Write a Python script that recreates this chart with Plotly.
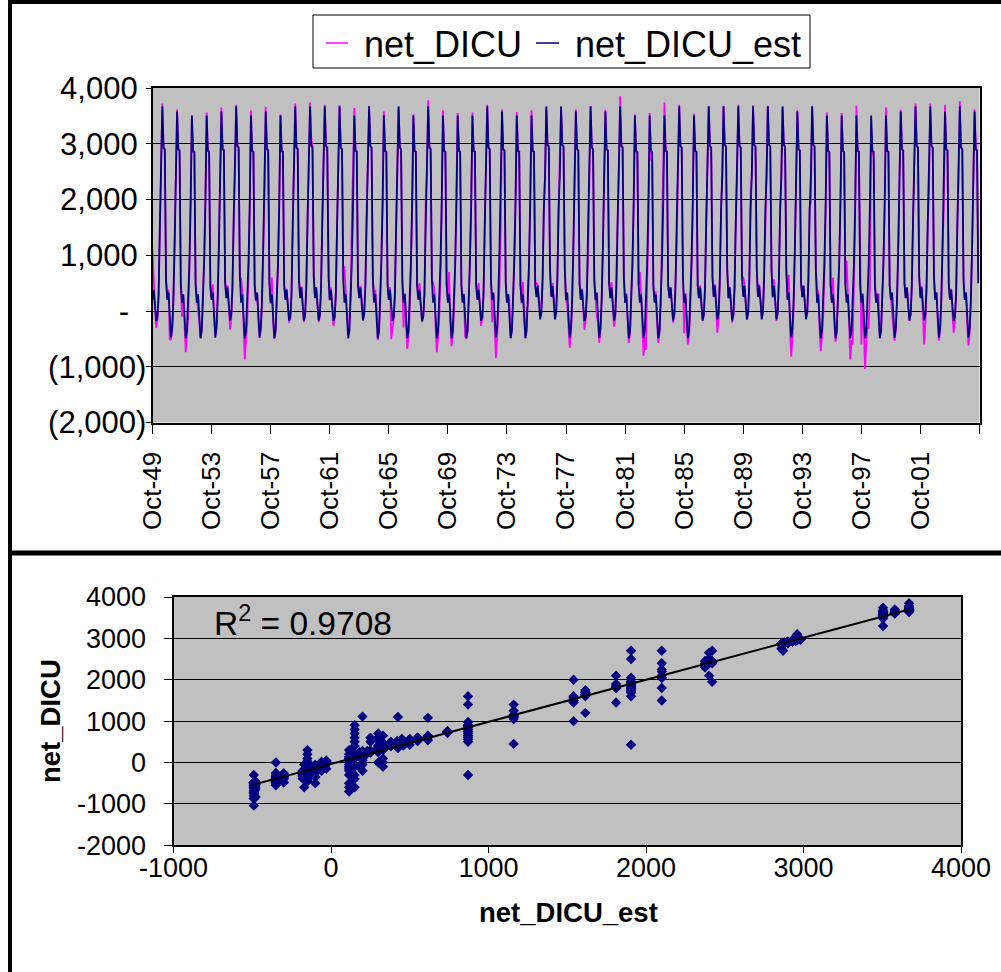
import numpy as np
import pandas as pd
import plotly.graph_objects as go

# ---------------- data ----------------
months = ["Oct", "Nov", "Dec", "Jan", "Feb", "Mar", "Apr", "May", "Jun", "Jul", "Aug", "Sep"]
water_years = list(range(1950, 2006))
year_types = ["BN", "AN", "W", "W", "AN", "D", "W", "AN", "W", "BN",
              "D", "D", "BN", "W", "D", "W", "BN", "W", "BN", "W",
              "W", "W", "BN", "AN", "W", "W", "C", "C", "AN", "BN",
              "AN", "D", "W", "W", "W", "D", "W", "D", "C", "D",
              "C", "C", "C", "AN", "C", "W", "W", "W", "W", "W",
              "AN", "D", "D", "AN", "BN", "AN"]

# estimated monthly net DICU by year type (Oct..Sep)
est_W = [150, 300, -150, -490, -350, 115, 870, 1905, 3505, 2870, 2860, 460]
est_AN = [200, 330, -100, -480, -300, 200, 1160, 2100, 3580, 2900, 2880, 500]
est_BN = [200, 380, 115, -180, -100, 300, 1540, 2375, 3670, 2930, 2900, 550]
est_D = [230, 420, 150, -170, -60, 425, 1615, 2400, 3670, 2960, 2930, 615]
est_C = [250, 450, 180, -150, -30, 550, 1810, 2420, 3670, 2980, 2950, 740]
est_table = {"W": est_W, "AN": est_AN, "BN": est_BN, "D": est_D, "C": est_C}

# observed net DICU, one row per water year (Oct..Sep)
net_dicu_rows = [
    [1110, 420, 60, -300, -150, 250, 1450, 2300, 3720, 2950, 2880, 600],
    [260, 380, -500, -520, -330, 150, 1250, 2200, 3620, 2920, 2870, 430],
    [-100, 280, -300, -740, -420, -100, 700, 1800, 3480, 2850, 2840, 520],
    [180, 0, -180, -480, -300, 200, 980, 2050, 3560, 2890, 2870, 410],
    [230, 480, -50, -450, -260, 280, 1400, 2250, 3650, 2920, 2900, 560],
    [280, 460, 100, -330, -120, 380, 1700, 2450, 3700, 2970, 2940, 540],
    [600, 340, -250, -870, -500, -200, 650, 1700, 3600, 2880, 2850, 480],
    [170, 310, -150, -480, -320, 150, 1100, 2050, 3660, 2910, 2890, 520],
    [130, 600, -200, -500, -380, 50, 800, 1850, 3530, 2860, 2850, 470],
    [230, 400, 80, -210, -120, 320, 1600, 2450, 3720, 2950, 2910, 590],
    [260, 440, 130, -200, -80, 470, 1700, 2650, 3740, 3100, 2940, 650],
    [250, 430, 120, -200, -90, 450, 1650, 2450, 3700, 2970, 2930, 1080],
    [190, 420, 60, -270, -130, 280, 1500, 2350, 3690, 2940, 2900, 570],
    [800, 330, -100, -300, -250, 300, 1600, 2500, 3640, 2890, 2870, 500],
    [240, 450, 200, -50, 20, 500, 1750, 2500, 3680, 2960, 2930, 630],
    [180, 380, 100, -520, -380, 100, 900, 1950, 3580, 2880, 2860, 480],
    [220, 430, -500, -300, -150, 320, 1500, 2400, 3650, 2930, 2900, 580],
    [-300, 320, -250, -680, -450, -50, 750, 1800, 3530, 2870, 2850, 500],
    [210, 500, 130, -200, -90, 340, 2000, 2450, 3780, 2960, 2910, 560],
    [500, 410, -300, -740, -480, -150, 600, 1700, 3600, 2880, 2860, 510],
    [200, 700, -200, -630, -420, 0, 850, 1900, 3550, 2870, 2860, 470],
    [160, 310, -450, -500, -360, 120, 900, 1950, 3560, 2870, 2850, 480],
    [230, 500, 100, -270, -130, 300, 1560, 2380, 3700, 2940, 2900, 590],
    [-200, 300, -350, -840, -480, -50, 450, 1500, 3620, 2900, 2880, 520],
    [150, 300, 200, -480, -350, 130, 900, 1950, 3570, 2880, 2860, 450],
    [140, 520, -130, -480, 0, 100, 850, 1900, 3600, 2870, 2850, 470],
    [500, 460, 220, 30, 50, 560, 1850, 2450, 3650, 2980, 2950, 720],
    [290, 500, 250, 0, 20, 600, 1900, 2700, 3660, 2980, 2950, 760],
    [200, 100, -250, -660, -400, 100, 1100, 2050, 3620, 2900, 2880, 510],
    [210, 400, 60, -340, -160, 280, 1000, 2300, 3680, 2930, 2900, 560],
    [190, -100, -200, -570, -350, 150, 1150, 2100, 3610, 2900, 2880, 520],
    [250, 520, 100, -280, -120, 1100, 1700, 2500, 3850, 2990, 2940, 640],
    [150, 320, -230, -570, -400, 50, 800, 1850, 3530, 2860, 2850, 470],
    [700, 310, -350, -800, -480, -700, 500, 1600, 3550, 2700, 2840, 450],
    [180, 350, -250, -570, -400, 80, 1400, 2700, 3740, 2890, 2860, 470],
    [240, 430, 130, -210, -80, 440, 1200, 2450, 3700, 2970, 2930, 620],
    [-400, 320, -250, -600, -420, 0, 750, 1750, 3540, 2870, 2850, 470],
    [230, 460, 170, -180, -60, 430, 1650, 2420, 3680, 2960, 2930, 610],
    [260, 480, -100, -390, -150, 520, 1800, 2430, 3680, 2980, 2950, 740],
    [230, 440, 140, -210, -70, 420, 1620, 2400, 3700, 2960, 2930, 630],
    [600, 500, 170, -160, -20, 560, 2100, 2450, 3690, 2980, 2950, 750],
    [260, 480, 190, -60, 20, 560, 1450, 2450, 3680, 2980, 2950, 740],
    [240, 570, 160, -180, -40, 540, 1800, 2400, 3640, 2970, 2940, 720],
    [200, 650, -350, -820, -480, 50, 1050, 2700, 3600, 2900, 2880, 520],
    [250, 460, 200, -120, 0, 570, 1850, 1950, 3680, 2980, 2950, 750],
    [400, 330, -300, -720, -450, -100, 650, 1750, 3560, 2870, 2850, 480],
    [160, 600, -200, -550, -380, 80, 850, 1900, 3550, 2870, 2850, 470],
    [900, 340, -400, -870, -520, -600, 550, 1700, 3680, 2880, 2860, 490],
    [-600, 320, -450, -1040, -550, -300, -300, 430, 3300, 2870, 2750, 480],
    [150, 310, 300, -480, -340, 120, 900, 1950, 3650, 2880, 2860, 470],
    [200, 0, -200, -530, -330, 150, 1150, 2400, 3610, 2900, 2880, 510],
    [240, 430, 140, -180, -60, 430, 1650, 2450, 3720, 2970, 2930, 620],
    [250, 450, -100, -600, -200, 350, 1600, 2100, 3720, 2970, 2930, 630],
    [210, 340, -150, -530, -330, 150, 1150, 1800, 3700, 2910, 2880, 510],
    [220, 400, 0, -390, -180, 280, 1500, 2350, 3760, 2940, 2900, 570],
    [200, 330, -250, -620, -380, 120, 1100, 2050, 3620, 2900, 2880, 570],
]

x_tick_labels = ["Oct-49", "Oct-53", "Oct-57", "Oct-61", "Oct-65", "Oct-69", "Oct-73",
                 "Oct-77", "Oct-81", "Oct-85", "Oct-89", "Oct-93", "Oct-97", "Oct-01"]
y_tick_vals = [-2000, -1000, 0, 1000, 2000, 3000, 4000]
NB = "\u00a0"
y_tick_text = ["(2,000)", "(1,000)", "-" + NB * 2, "1,000" + NB, "2,000" + NB, "3,000" + NB, "4,000" + NB]
sc_x_vals = [-1000, 0, 1000, 2000, 3000, 4000]
sc_x_text = ["-1000", "0", "1000", "2000", "3000", "4000"]
sc_y_vals = [-2000, -1000, 0, 1000, 2000, 3000, 4000]
sc_y_text = ["-2000", "-1000", "0", "1000", "2000", "3000", "4000"]
r2_label = "R<sup>2</sup> = 0.9708"

# ---------------- derived ----------------
dates = pd.date_range("1949-10-01", periods=len(water_years) * 12, freq="MS")
net = np.array([v for row in net_dicu_rows for v in row], dtype=float)
est = np.array([v for t in year_types for v in est_table[t]], dtype=float)
tick_dates = pd.date_range("1949-10-01", periods=len(x_tick_labels) + 1, freq="48MS")

slope, intercept = np.polyfit(est, net, 1)
fit_x = np.array([est.min(), est.max()])
fit_y = slope * fit_x + intercept

# ---------------- figure ----------------
W, H = 1001, 972
FONT = "Liberation Sans, Arial, sans-serif"


def px(x):
    return x / W


def py(y):
    return 1 - y / H


fig = go.Figure()
fig.add_trace(go.Scatter(x=dates, y=net, mode="lines", name="net_DICU",
                         line=dict(color="#FF00FF", width=1.8), xaxis="x", yaxis="y",
                         showlegend=False))
fig.add_trace(go.Scatter(x=dates, y=est, mode="lines", name="net_DICU_est",
                         line=dict(color="#000080", width=1.8), xaxis="x", yaxis="y",
                         showlegend=False))
fig.add_trace(go.Scatter(x=est, y=net, mode="markers",
                         marker=dict(symbol="diamond", size=8, color="#000080"),
                         xaxis="x2", yaxis="y2", showlegend=False))
fig.add_trace(go.Scatter(x=fit_x, y=fit_y, mode="lines",
                         line=dict(color="black", width=2),
                         xaxis="x2", yaxis="y2", showlegend=False))


def axis_style(size):
    return dict(showline=True, linecolor="black", linewidth=2, mirror=True,
                zeroline=False, ticks="outside", tickcolor="black", tickwidth=1,
                automargin=False,
                tickfont=dict(family=FONT, size=size, color="black"))


fig.update_layout(
    width=W, height=H,
    margin=dict(l=0, r=0, t=0, b=0, pad=0, autoexpand=False),
    paper_bgcolor="white", plot_bgcolor="#C0C0C0",
    font=dict(family=FONT, color="black"),
    showlegend=False,
    xaxis=dict(domain=[px(152.5), px(979.5)], anchor="y", type="date",
               range=[dates[0], tick_dates[-1]],
               tickmode="array", tickvals=tick_dates[:-1], ticktext=x_tick_labels,
               tickangle=-90, ticklen=9, ticklabelstandoff=8, showgrid=False,
               minor=dict(tickmode="array", tickvals=[tick_dates[-1]], ticks="outside",
                          ticklen=9, tickcolor="black", tickwidth=1, showgrid=False),
               **axis_style(26)),
    yaxis=dict(domain=[py(422.5), py(88)], anchor="x", range=[-2000, 4000],
               tickmode="array", tickvals=y_tick_vals, ticktext=y_tick_text,
               ticklen=5, ticklabelstandoff=-7, showgrid=True, gridcolor="black", gridwidth=1,
               **axis_style(31)),
    xaxis2=dict(domain=[px(173.5), px(961)], anchor="y2", range=[-1000, 4000],
                tickmode="array", tickvals=sc_x_vals, ticktext=sc_x_text,
                ticklen=6, ticklabelstandoff=-9, showgrid=False, **axis_style(27)),
    yaxis2=dict(domain=[py(845.3), py(597)], anchor="x2", range=[-2000, 4000],
                tickmode="array", tickvals=sc_y_vals, ticktext=sc_y_text,
                ticklen=8, ticklabelstandoff=12, showgrid=True, gridcolor="black",
                gridwidth=1, **axis_style(27)),
)

shapes = [
    # legend box and samples
    dict(type="rect", xref="paper", yref="paper", x0=px(313), x1=px(810), y0=py(68), y1=py(15),
         line=dict(color="black", width=1), fillcolor="white"),
    dict(type="line", xref="paper", yref="paper", x0=px(326), x1=px(348), y0=py(43), y1=py(43),
         line=dict(color="#FF00FF", width=1.5)),
    dict(type="line", xref="paper", yref="paper", x0=px(536), x1=px(559), y0=py(43), y1=py(43),
         line=dict(color="#000080", width=1.5)),
    # chart object borders
    dict(type="line", xref="paper", yref="paper", x0=px(8), x1=px(1001), y0=py(2), y1=py(2),
         line=dict(color="black", width=4)),
    dict(type="line", xref="paper", yref="paper", x0=px(10), x1=px(10), y0=py(0), y1=py(972),
         line=dict(color="black", width=4)),
    dict(type="line", xref="paper", yref="paper", x0=px(8), x1=px(1001), y0=py(553), y1=py(553),
         line=dict(color="black", width=5)),
]
fig.update_layout(shapes=shapes)

annotations = [
    dict(text="net_DICU", xref="paper", yref="paper", x=px(362), y=py(45),
         xanchor="left", yanchor="middle", showarrow=False,
         font=dict(family=FONT, size=36, color="black")),
    dict(text="net_DICU_est", xref="paper", yref="paper", x=px(573), y=py(45),
         xanchor="left", yanchor="middle", showarrow=False,
         font=dict(family=FONT, size=36, color="black")),
    dict(text=r2_label, xref="paper", yref="paper", x=px(212), y=py(621),
         xanchor="left", yanchor="middle", showarrow=False,
         font=dict(family=FONT, size=33.5, color="black")),
    dict(text="<b>net_DICU_est</b>", xref="paper", yref="paper", x=px(568), y=py(912),
         xanchor="center", yanchor="middle", showarrow=False,
         font=dict(family=FONT, size=27.5, color="black")),
    dict(text="<b>net_DICU</b>", xref="paper", yref="paper", x=px(50), y=py(721),
         xanchor="center", yanchor="middle", showarrow=False, textangle=-90,
         font=dict(family=FONT, size=27.5, color="black")),
]
fig.update_layout(annotations=annotations)

fig.write_html("out.html", config={"displayModeBar": False},
               post_script="document.body.style.margin='0px';")
